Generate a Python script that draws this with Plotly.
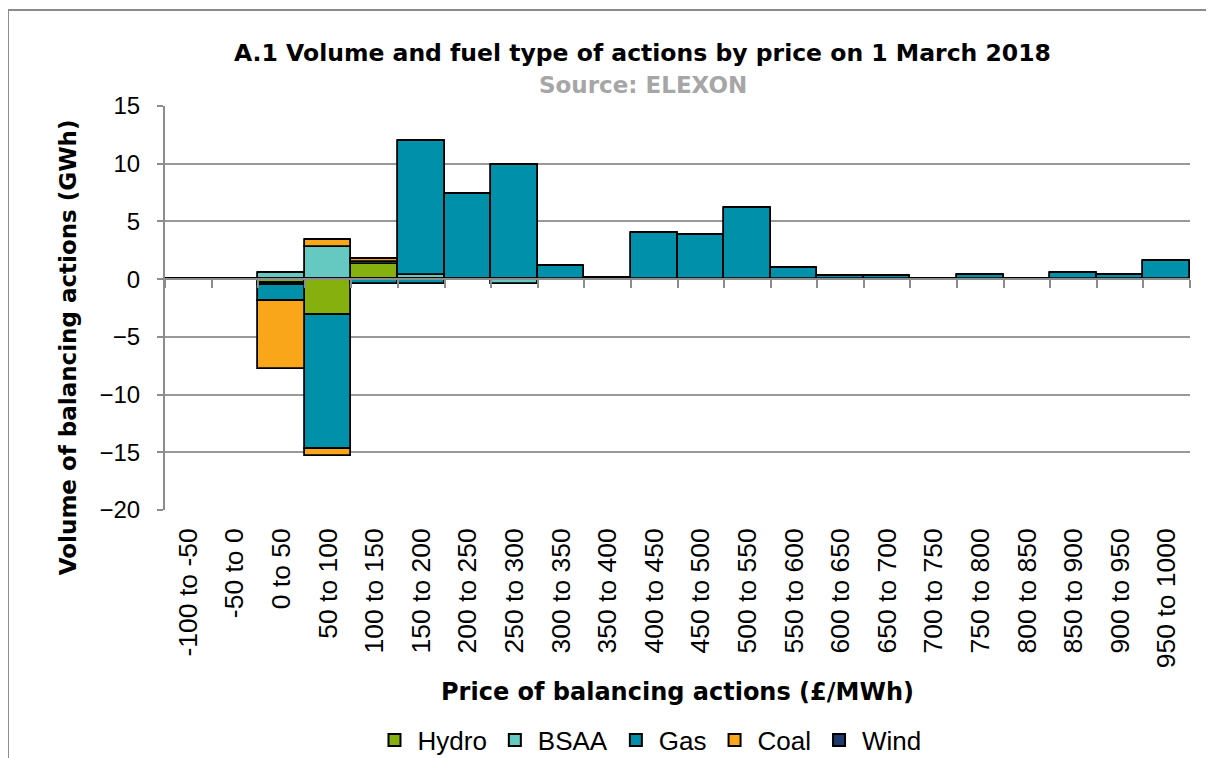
import plotly.graph_objects as go

categories = ["-100 to -50", "-50 to 0", "0 to 50", "50 to 100", "100 to 150", "150 to 200",
              "200 to 250", "250 to 300", "300 to 350", "350 to 400", "400 to 450", "450 to 500",
              "500 to 550", "550 to 600", "600 to 650", "650 to 700", "700 to 750", "750 to 800",
              "800 to 850", "850 to 900", "900 to 950", "950 to 1000"]

# positive and negative volumes (GWh) per fuel type
hydro_pos = [0, 0, 0, 0, 1.3, 0, 0, 0, 0, 0, 0, 0, 0, 0, 0, 0, 0, 0, 0, 0, 0, 0]
hydro_neg = [0, 0, -0.35, -3.1, 0, 0, 0, 0, 0, 0, 0, 0, 0, 0, 0, 0, 0, 0, 0, 0, 0, 0]
bsaa_pos = [0, 0, 0.5, 2.75, 0.15, 0.4, 0, 0, 0, 0, 0, 0, 0, 0, 0, 0, 0, 0, 0, 0, 0, 0]
bsaa_neg = [0, 0, -0.2, 0, 0, 0, 0, -0.4, 0, 0, 0, 0, 0, 0, 0, 0, 0, 0, 0, 0, 0, 0]
gas_pos = [0, 0, 0, 0, 0, 11.55, 7.35, 9.9, 1.1, 0.1, 4.0, 3.8, 6.15, 1.0, 0.25, 0.3, 0, 0.35, 0, 0.55, 0.4, 1.55]
gas_neg = [0, -0.05, -1.3, -11.6, -0.45, -0.45, -0.05, 0, 0, 0, 0, 0, 0, 0, 0, 0, 0, 0, 0, 0, 0, 0]
coal_pos = [0, 0, 0, 0.65, 0.3, 0, 0, 0, 0, 0, 0, 0, 0, 0, 0, 0, 0, 0, 0, 0, 0, 0]
coal_neg = [0, 0, -5.9, -0.6, 0, 0, 0, 0, 0, 0, 0, 0, 0, 0, 0, 0, 0, 0, 0, 0, 0, 0]
wind_pos = [0] * 22
wind_neg = [0] * 22

series = [
    ("Hydro", "#86B00D", hydro_pos, hydro_neg),
    ("BSAA", "#66C9C1", bsaa_pos, bsaa_neg),
    ("Gas", "#0090AA", gas_pos, gas_neg),
    ("Coal", "#F9A61A", coal_pos, coal_neg),
    ("Wind", "#203A70", wind_pos, wind_neg),
]

TICKFONT = "Liberation Sans"
BOLDFONT = "DejaVu Sans"
fig = go.Figure()
for name, color, pos, neg in series:
    fig.add_trace(go.Bar(x=categories, y=pos, name=name, legendgroup=name,
                         marker=dict(color=color, line=dict(color="black", width=1.8)),
                         showlegend=True))
for name, color, pos, neg in series:
    fig.add_trace(go.Bar(x=categories, y=neg, name=name, legendgroup=name,
                         marker=dict(color=color, line=dict(color="black", width=1.8)),
                         showlegend=False))

# helper axis carrying tick marks on the zero line
fig.add_trace(go.Scatter(x=categories, y=[0] * len(categories), xaxis="x2", mode="lines",
                         line=dict(width=0), hoverinfo="skip", showlegend=False))

zero_pos = (0 - (-20)) / 35

fig.update_layout(
    width=1206, height=750,
    margin=dict(l=157, r=24, t=98, b=248),
    paper_bgcolor="white", plot_bgcolor="white",
    barmode="relative", bargap=0,
    font=dict(family=TICKFONT, size=24, color="black"),
    xaxis=dict(type="category", categoryorder="array", categoryarray=categories,
               range=[-0.5, 21.5], showgrid=False, showline=False, ticks="",
               ticklabelstandoff=12,
               tickangle=-90, tickfont=dict(size=26.5, family=TICKFONT), automargin=False),
    xaxis2=dict(type="category", categoryorder="array", categoryarray=categories,
                range=[-0.5, 21.5], overlaying="x", anchor="free", position=zero_pos,
                side="bottom", showline=True, linecolor="#8c8c8c", linewidth=2,
                ticks="outside", tickson="boundaries", ticklen=8, tickcolor="#8c8c8c",
                tickwidth=2, showticklabels=False, showgrid=False, automargin=False),
    yaxis=dict(range=[-20, 15], dtick=5, tick0=0, showgrid=True, gridcolor="#999999",
               gridwidth=2, showline=True, linecolor="#8c8c8c", linewidth=2,
               ticks="outside", ticklen=6, tickcolor="#8c8c8c", tickwidth=2,
               ticklabelstandoff=12,
               zeroline=False, tickfont=dict(size=24, family=TICKFONT), automargin=False),
    legend=dict(orientation="h", xref="container", yref="container",
                x=0.5315, xanchor="center", y=0.024, yanchor="middle",
                font=dict(size=26, family=TICKFONT), traceorder="normal",
                itemsizing="constant", itemwidth=36),
    showlegend=True,
)

fig.add_annotation(text="<b>A.1 Volume and fuel type of actions by price on 1 March 2018</b>",
                   xref="paper", yref="paper", x=0.466, y=1.131, showarrow=False,
                   xanchor="center", yanchor="middle", font=dict(size=23.5, family=BOLDFONT, color="black"))
fig.add_annotation(text="<b>Source: ELEXON</b>",
                   xref="paper", yref="paper", x=0.466, y=1.052, showarrow=False,
                   xanchor="center", yanchor="middle", font=dict(size=23, family=BOLDFONT, color="#a6a6a6"))
fig.add_annotation(text="<b>Price of balancing actions (£/MWh)</b>",
                   xref="paper", yref="paper", x=0.5, y=-0.4505, showarrow=False,
                   xanchor="center", yanchor="middle", font=dict(size=24, family=BOLDFONT, color="black"))
fig.add_annotation(text="<b>Volume of balancing actions (GWh)</b>",
                   xref="paper", yref="paper", x=-0.0946, y=0.403, showarrow=False, textangle=-90,
                   xanchor="center", yanchor="middle", font=dict(size=23, family=BOLDFONT, color="black"))

# outer chart border
fig.add_shape(type="rect", xref="paper", yref="paper", x0=(8 - 165) / 1025, x1=1.1,
              y0=-0.8, y1=(510 - 10) / 404, line=dict(color="#8c8c8c", width=2),
              fillcolor="rgba(0,0,0,0)", layer="below")

fig.write_html("out.html")
